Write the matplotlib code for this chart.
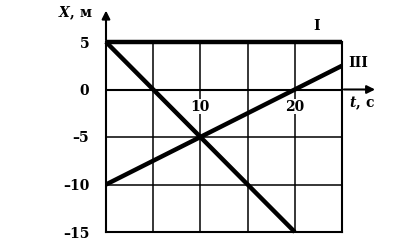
import matplotlib
matplotlib.use("Agg")
import matplotlib.pyplot as plt

# Motion graphs X(t)
t_I = [0, 25]
x_I = [5, 5]
t_II = [0, 20]
x_II = [5, -15]
t_III = [0, 25]
x_III = [-10, 2.5]

y_ticks = [5, 0, -5, -10, -15]
y_labels = ["5", "0", "–5", "–10", "–15"]
x_grid = [0, 5, 10, 15, 20, 25]
x_labels = [10, 20]

plt.rcParams['font.family'] = ['DejaVu Serif']
plt.rcParams['font.weight'] = 'bold'
plt.rcParams['mathtext.fontset'] = 'dejavuserif'

fig = plt.figure(figsize=(4.17, 2.42), dpi=100)
ax = fig.add_axes([106 / 417, 10 / 242, 236 / 417, 190 / 242])
ax.set_xlim(0, 25)
ax.set_ylim(-15, 5)

ax.set_xticks(x_grid)
ax.set_yticks(y_ticks)
ax.set_yticklabels(y_labels, fontsize=10, fontweight='bold')
ax.set_xticklabels([])
ax.tick_params(length=0, pad=12)
ax.grid(True, color='black', linewidth=1.1)
for s in ax.spines.values():
    s.set_linewidth(1.5)

# x axis through 0 and the axis arrows
ax.axhline(0, color='black', linewidth=1.5)
ax.annotate('', xy=(28.8, 0), xytext=(24.9, 0), annotation_clip=False,
            arrowprops=dict(arrowstyle='-|>', color='black', lw=1.5,
                            mutation_scale=12))
ax.annotate('', xy=(0, 8.6), xytext=(0, 4.9), annotation_clip=False,
            arrowprops=dict(arrowstyle='-|>', color='black', lw=1.5,
                            mutation_scale=12))

ax.plot(t_I, x_I, color='black', linewidth=3.2, solid_capstyle='butt', clip_on=False)
ax.plot(t_II, x_II, color='black', linewidth=3.2, solid_capstyle='butt', clip_on=False)
ax.plot(t_III, x_III, color='black', linewidth=3.2, solid_capstyle='butt', clip_on=False)

for v in x_labels:
    ax.text(v, -1.8, str(v), ha='center', va='center', fontsize=10,
            fontweight='bold',
            bbox=dict(facecolor='white', edgecolor='none', pad=0.5))

fig.text(93 / 417, 1 - 13 / 242, r"$\mathbfit{X}$, м", ha='right', va='center',
         fontsize=10, fontweight='bold')
fig.text(349 / 417, 1 - 103 / 242, r"$\mathbfit{t}$, с", ha='left', va='center',
         fontsize=10, fontweight='bold')
ax.text(22.35, 6.7, "I", ha='center', va='center', fontsize=10, fontweight='bold',
        clip_on=False)
ax.text(25.7, 2.84, "III", ha='left', va='center', fontsize=10, fontweight='bold',
        clip_on=False)

fig.savefig("out.png", dpi=100)
